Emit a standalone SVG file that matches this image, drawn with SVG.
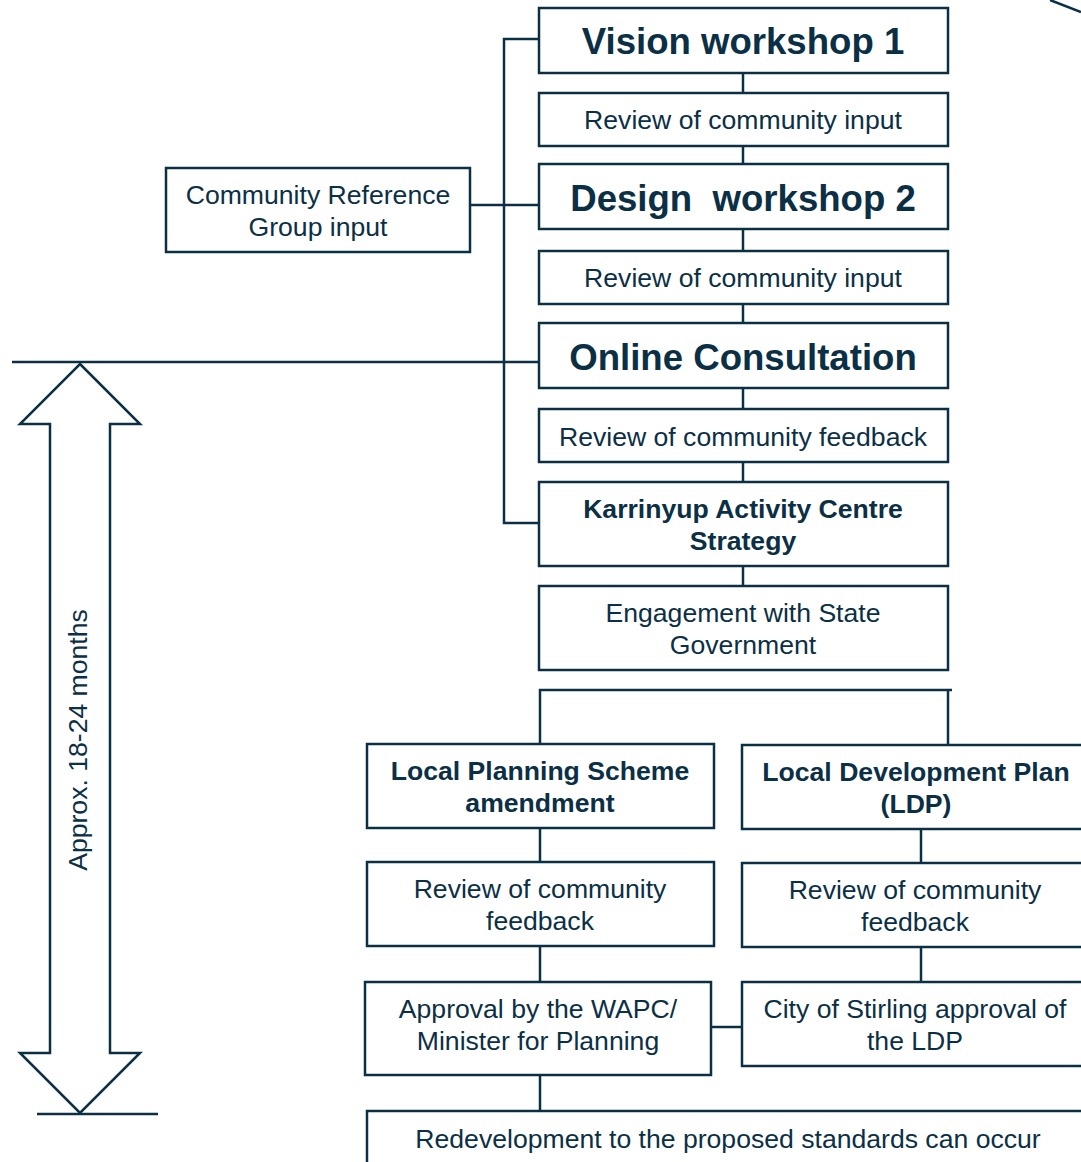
<svg xmlns="http://www.w3.org/2000/svg" width="1081" height="1162" viewBox="0 0 1081 1162">
  <style>
    .box { fill: #ffffff; stroke: #0b3046; stroke-width: 2.5; }
    .ln { fill: none; stroke: #0b3046; stroke-width: 2.5; }
    text { font-family: "Liberation Sans", Arial, sans-serif; fill: #0b3046; text-anchor: middle; }
    .big { font-size: 36.6px; font-weight: bold; }
    .reg { font-size: 26.6px; }
    .bold { font-size: 26.6px; font-weight: bold; }
  </style>
  <rect width="1081" height="1162" fill="#ffffff"/>

  <!-- connectors -->
  <g id="connectors">
    <!-- spine between the top steps -->
    <line class="ln" x1="743" y1="73" x2="743" y2="93"/>
    <line class="ln" x1="743" y1="146" x2="743" y2="164"/>
    <line class="ln" x1="743" y1="229" x2="743" y2="251"/>
    <line class="ln" x1="743" y1="304" x2="743" y2="323"/>
    <line class="ln" x1="743" y1="388" x2="743" y2="409"/>
    <line class="ln" x1="743" y1="462" x2="743" y2="482"/>
    <line class="ln" x1="743" y1="566" x2="743" y2="586"/>
    <!-- reference group bracket -->
    <polyline class="ln" points="539,39 504,39 504,523 539,523"/>
    <line class="ln" x1="470" y1="205" x2="539" y2="205"/>
    <line class="ln" x1="12" y1="362" x2="539" y2="362"/>
    <!-- split into the two planning tracks -->
    <polyline class="ln" points="540,744 540,690 952,690"/>
    <line class="ln" x1="948" y1="690" x2="948" y2="745"/>
    <line class="ln" x1="540" y1="828" x2="540" y2="862"/>
    <line class="ln" x1="540" y1="946" x2="540" y2="982"/>
    <line class="ln" x1="540" y1="1075" x2="540" y2="1111"/>
    <line class="ln" x1="921" y1="829" x2="921" y2="863"/>
    <line class="ln" x1="921" y1="947" x2="921" y2="982"/>
    <line class="ln" x1="711" y1="1027" x2="742" y2="1027"/>
    <!-- timeframe arrow -->
    <polygon class="ln" points="80,364 140,424 110,424 110,1053 140,1053 80,1113 20,1053 50,1053 50,424 20,424"/>
    <line class="ln" x1="37" y1="1114" x2="158" y2="1114"/>
    <line class="ln" x1="1050" y1="0" x2="1081" y2="12"/>
  </g>

  <g id="vision-workshop">
    <rect class="box" x="539" y="8" width="409" height="65"/>
    <text class="big" x="743" y="54">Vision workshop 1</text>
  </g>
  <g id="review-1">
    <rect class="box" x="539" y="93" width="409" height="53"/>
    <text class="reg" x="743" y="129">Review of community input</text>
  </g>
  <g id="design-workshop">
    <rect class="box" x="539" y="164" width="409" height="65"/>
    <text class="big" x="743" y="211" xml:space="preserve">Design  workshop 2</text>
  </g>
  <g id="review-2">
    <rect class="box" x="539" y="251" width="409" height="53"/>
    <text class="reg" x="743" y="287">Review of community input</text>
  </g>
  <g id="online-consultation">
    <rect class="box" x="539" y="323" width="409" height="65"/>
    <text class="big" x="743" y="370">Online Consultation</text>
  </g>
  <g id="review-3">
    <rect class="box" x="539" y="409" width="409" height="53"/>
    <text class="reg" x="743" y="446">Review of community feedback</text>
  </g>
  <g id="strategy">
    <rect class="box" x="539" y="482" width="409" height="84"/>
    <text class="bold" x="743" y="518">Karrinyup Activity Centre</text>
    <text class="bold" x="743" y="550">Strategy</text>
  </g>
  <g id="state-engagement">
    <rect class="box" x="539" y="586" width="409" height="84"/>
    <text class="reg" x="743" y="622">Engagement with State</text>
    <text class="reg" x="743" y="654">Government</text>
  </g>
  <g id="reference-group">
    <rect class="box" x="166" y="168" width="304" height="84"/>
    <text class="reg" x="318" y="204">Community Reference</text>
    <text class="reg" x="318" y="236">Group input</text>
  </g>
  <g id="scheme-amendment">
    <rect class="box" x="367" y="744" width="347" height="84"/>
    <text class="bold" x="540" y="780">Local Planning Scheme</text>
    <text class="bold" x="540" y="812">amendment</text>
  </g>
  <g id="ldp">
    <rect class="box" x="742" y="745" width="360" height="84"/>
    <text class="bold" x="916" y="781">Local Development Plan</text>
    <text class="bold" x="916" y="813">(LDP)</text>
  </g>
  <g id="review-scheme">
    <rect class="box" x="367" y="862" width="347" height="84"/>
    <text class="reg" x="540" y="898">Review of community</text>
    <text class="reg" x="540" y="930">feedback</text>
  </g>
  <g id="review-ldp">
    <rect class="box" x="742" y="863" width="360" height="84"/>
    <text class="reg" x="915" y="899">Review of community</text>
    <text class="reg" x="915" y="931">feedback</text>
  </g>
  <g id="wapc-approval">
    <rect class="box" x="365" y="982" width="346" height="93"/>
    <text class="reg" x="538" y="1018">Approval by the WAPC/</text>
    <text class="reg" x="538" y="1050">Minister for Planning</text>
  </g>
  <g id="city-approval">
    <rect class="box" x="742" y="982" width="360" height="84"/>
    <text class="reg" x="915" y="1018">City of Stirling approval of</text>
    <text class="reg" x="915" y="1050">the LDP</text>
  </g>
  <g id="redevelopment">
    <rect class="box" x="367" y="1111" width="740" height="80"/>
    <text class="reg" x="728" y="1148">Redevelopment to the proposed standards can occur</text>
  </g>
  <g id="timeframe">
    <text class="reg" transform="translate(87,740) rotate(-90)">Approx. 18-24 months</text>
  </g>
</svg>
